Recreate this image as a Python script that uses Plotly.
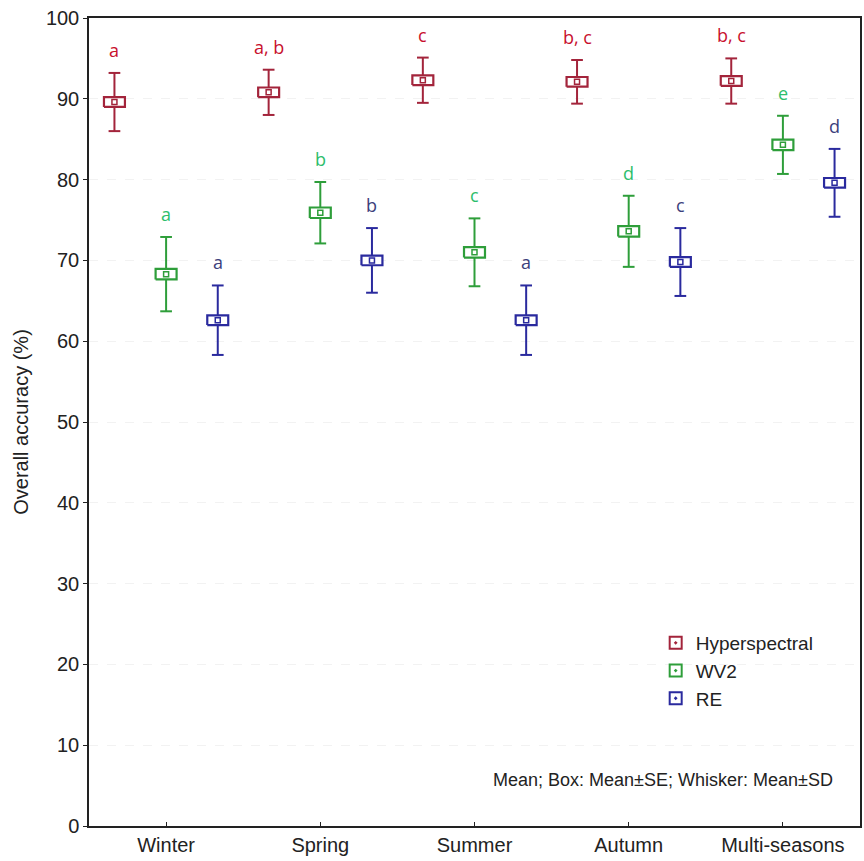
import plotly.graph_objects as go

categories = ["Winter", "Spring", "Summer", "Autumn", "Multi-seasons"]
series_names = ["Hyperspectral", "WV2", "RE"]

hyper_mean = [89.6, 90.8, 92.3, 92.1, 92.2]
hyper_se = [0.6, 0.6, 0.6, 0.6, 0.6]
hyper_sd = [3.6, 2.8, 2.8, 2.7, 2.8]
hyper_letters = ["a", "a, b", "c", "b, c", "b, c"]

wv2_mean = [68.3, 75.9, 71.0, 73.6, 84.3]
wv2_se = [0.65, 0.65, 0.65, 0.65, 0.65]
wv2_sd = [4.6, 3.8, 4.2, 4.4, 3.6]
wv2_letters = ["a", "b", "c", "d", "e"]

re_mean = [62.6, 70.0, 62.6, 69.8, 79.6]
re_se = [0.6, 0.6, 0.6, 0.6, 0.6]
re_sd = [4.3, 4.0, 4.3, 4.2, 4.2]
re_letters = ["a", "b", "a", "c", "d"]

line_colors = ["#A3243B", "#2E9E3A", "#2A2A9E"]
letter_colors = ["#C8102E", "#2DBE6C", "#3C3F7C"]
offsets = [-0.335, 0.0, 0.335]

means = [hyper_mean, wv2_mean, re_mean]
ses = [hyper_se, wv2_se, re_se]
sds = [hyper_sd, wv2_sd, re_sd]
letters = [hyper_letters, wv2_letters, re_letters]

box_hw = 0.068
cap_hw = 0.038

fig = go.Figure()

for s in range(3):
    xs_w, ys_w = [], []
    xs_b, ys_b = [], []
    xm = []
    for i in range(len(categories)):
        xc = i + 1 + offsets[s]
        m, se, sd = means[s][i], ses[s][i], sds[s][i]
        xs_w += [xc, xc, None, xc, xc, None,
                 xc - cap_hw, xc + cap_hw, None, xc - cap_hw, xc + cap_hw, None]
        ys_w += [m + se, m + sd, None, m - se, m - sd, None,
                 m + sd, m + sd, None, m - sd, m - sd, None]
        xs_b += [xc - box_hw, xc + box_hw, xc + box_hw, xc - box_hw, xc - box_hw, None]
        ys_b += [m - se, m - se, m + se, m + se, m - se, None]
        xm.append(xc)
    fig.add_trace(go.Scatter(x=xs_w, y=ys_w, mode="lines",
                             line=dict(color=line_colors[s], width=2),
                             showlegend=False, hoverinfo="skip"))
    fig.add_trace(go.Scatter(x=xs_b, y=ys_b, mode="lines", fill="toself",
                             fillcolor="white",
                             line=dict(color=line_colors[s], width=2.2),
                             showlegend=False, hoverinfo="skip"))
    fig.add_trace(go.Scatter(x=xm, y=means[s], mode="markers",
                             marker=dict(symbol="square", size=5, color="white",
                                         line=dict(color=line_colors[s], width=1.5)),
                             showlegend=False))
    fig.add_trace(go.Scatter(x=[None], y=[None], mode="markers", name=series_names[s],
                             marker=dict(symbol="square-open-dot", size=15,
                                         color=line_colors[s],
                                         line=dict(color=line_colors[s], width=2.5))))
    for i in range(len(categories)):
        fig.add_annotation(x=i + 1 + offsets[s], y=means[s][i] + sds[s][i],
                           text=letters[s][i], showarrow=False, yshift=23,
                           font=dict(size=18, color=letter_colors[s],
                                     family="Open Sans, Noto Sans, Arial"))

fig.add_annotation(xref="paper", yref="paper", x=0.968, y=0.057,
                   xanchor="right", yanchor="middle", showarrow=False,
                   text="Mean; Box: Mean±SE; Whisker: Mean±SD",
                   font=dict(size=18, color="#222", family="Liberation Sans, Arial"))

fig.update_layout(
    width=864, height=861,
    margin=dict(l=89, r=2, t=18, b=35),
    paper_bgcolor="white", plot_bgcolor="white",
    font=dict(family="Liberation Sans, Arial", color="#222"),
    legend=dict(x=0.735, y=0.25, xanchor="left", yanchor="top",
                font=dict(size=19, color="#222"), bgcolor="rgba(0,0,0,0)",
                itemsizing="constant", tracegroupgap=0, itemwidth=30),
    showlegend=True,
)
fig.update_xaxes(range=[0.5, 5.5], tickvals=[1, 2, 3, 4, 5], ticktext=categories,
                 ticks="inside", ticklen=4, tickcolor="#222",
                 showline=True, linecolor="#222", linewidth=1.5, mirror=True,
                 showgrid=False, zeroline=False,
                 tickfont=dict(size=20, color="#222"))
fig.update_yaxes(range=[0, 100], dtick=10, ticks="outside", ticklen=4,
                 tickcolor="#222",
                 showline=True, linecolor="#222", linewidth=1.5, mirror=True,
                 showgrid=True, gridcolor="#f2f2f2", griddash="dash", zeroline=False,
                 tickfont=dict(size=20, color="#222"),
                 title=dict(text="Overall accuracy (%)", font=dict(size=20, color="#222"),
                            standoff=12))

fig.write_html("out.html")
